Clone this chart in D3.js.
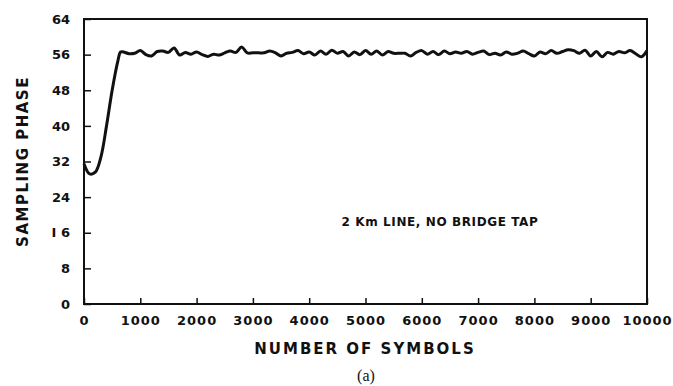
<!DOCTYPE html>
<html>
<head>
<meta charset="utf-8">
<script src="https://cdn.jsdelivr.net/npm/d3@7.9.0/dist/d3.min.js"></script>
<style>
  body { margin: 0; background: #fff; }
  text { font-family: "DejaVu Sans", sans-serif; fill: #111; }
</style>
</head>
<body>
<div id="vis"></div>
<script>
const width = 673, height = 386;
const margin = { top: 19, right: 26, bottom: 82, left: 84 };

// number of symbols (x) and sampling phase (y)
const symbols = [
  0, 100, 200, 300, 400, 500, 600, 650,
  700, 800, 900, 1000, 1100, 1200, 1300, 1400, 1500, 1600, 1700, 1800, 1900,
  2000, 2100, 2200, 2300, 2400, 2500, 2600, 2700, 2800, 2900,
  3000, 3100, 3200, 3300, 3400, 3500, 3600, 3700, 3800, 3900,
  4000, 4100, 4200, 4300, 4400, 4500, 4600, 4700, 4800, 4900,
  5000, 5100, 5200, 5300, 5400, 5500, 5600, 5700, 5800, 5900,
  6000, 6100, 6200, 6300, 6400, 6500, 6600, 6700, 6800, 6900,
  7000, 7100, 7200, 7300, 7400, 7500, 7600, 7700, 7800, 7900,
  8000, 8100, 8200, 8300, 8400, 8500, 8600, 8700, 8800, 8900,
  9000, 9100, 9200, 9300, 9400, 9500, 9600, 9700, 9800, 9900, 10000
];
const phase = [
  31.5, 29.2, 29.6, 33, 40, 48, 54.5, 56.6,
  56.6, 56.2, 56.3, 56.9, 56.0, 55.7, 56.7, 56.8, 56.5, 57.5, 55.9, 56.5, 56.1,
  56.6, 56.0, 55.6, 56.1, 55.9, 56.4, 56.8, 56.5, 57.7, 56.4,
  56.4, 56.4, 56.4, 56.8, 56.4, 55.7, 56.3, 56.5, 56.9, 56.2,
  56.6, 55.9, 56.8, 56.1, 57.0, 56.3, 56.7, 55.7, 56.6, 56.0,
  56.9, 56.1, 56.8, 55.9, 56.7, 56.3, 56.3, 56.3, 55.7, 56.5,
  56.9, 56.1, 56.7, 56.0, 56.8, 56.2, 56.6, 56.3, 56.7, 56.1,
  56.5, 56.8, 56.0, 56.3, 55.9, 56.6, 56.1, 56.3, 56.8, 56.2,
  55.7, 56.6, 56.2, 56.9, 56.3, 56.7, 57.1, 56.9, 56.3, 57.0,
  55.7, 56.7, 55.5, 56.5, 56.1, 56.7, 56.4, 56.9, 56.2, 55.5, 56.9
];
const xTicks = [0, 1000, 2000, 3000, 4000, 5000, 6000, 7000, 8000, 9000, 10000];
const yTicks = [0, 8, 16, 24, 32, 40, 48, 56, 64];
const yTickLabels = ["0", "8", "I 6", "24", "32", "40", "48", "56", "64"];

const svg = d3.select("#vis").append("svg")
    .attr("width", width)
    .attr("height", height);

const x = d3.scaleLinear().domain([0, 10000]).range([margin.left, width - margin.right]);
const y = d3.scaleLinear().domain([0, 64]).range([height - margin.bottom, margin.top]);

// frame
svg.append("rect")
    .attr("x", x(0))
    .attr("y", y(64))
    .attr("width", x(10000) - x(0))
    .attr("height", y(0) - y(64))
    .attr("fill", "none")
    .attr("stroke", "#111")
    .attr("stroke-width", 2);

const xAxis = svg.append("g")
    .attr("transform", `translate(0,${y(0)})`)
    .call(d3.axisBottom(x).tickValues(xTicks).tickFormat(d3.format("d"))
      .tickSizeInner(-6).tickSizeOuter(0).tickPadding(12));
xAxis.select(".domain").remove();
xAxis.selectAll("line").attr("stroke", "#111").attr("stroke-width", 1.5);
xAxis.selectAll("text")
    .style("font-size", "13px")
    .style("font-weight", "bold")
    .style("letter-spacing", "1px");

const yAxis = svg.append("g")
    .attr("transform", `translate(${x(0)},0)`)
    .call(d3.axisLeft(y).tickValues(yTicks).tickFormat((d, i) => yTickLabels[i])
      .tickSizeInner(-7).tickSizeOuter(0).tickPadding(14));
yAxis.select(".domain").remove();
yAxis.selectAll("line").attr("stroke", "#111").attr("stroke-width", 1.5);
yAxis.selectAll("text")
    .style("font-size", "13px")
    .style("font-weight", "bold");

const line = d3.line()
    .x((d, i) => x(symbols[i]))
    .y(d => y(d))
    .curve(d3.curveCatmullRom);

svg.append("path")
    .datum(phase)
    .attr("d", line)
    .attr("fill", "none")
    .attr("stroke", "#111")
    .attr("stroke-width", 3)
    .attr("stroke-linejoin", "round");

svg.append("text")
    .attr("x", 440)
    .attr("y", 226)
    .attr("text-anchor", "middle")
    .style("font-size", "12px")
    .style("font-weight", "bold")
    .style("letter-spacing", "0.6px")
    .text("2 Km LINE, NO BRIDGE TAP");

svg.append("text")
    .attr("x", 365)
    .attr("y", 354)
    .attr("text-anchor", "middle")
    .style("font-size", "15px")
    .style("font-weight", "bold")
    .style("letter-spacing", "2px")
    .text("NUMBER OF SYMBOLS");

svg.append("text")
    .attr("transform", `translate(28,${(y(0) + y(64)) / 2}) rotate(-90)`)
    .attr("text-anchor", "middle")
    .style("font-size", "15px")
    .style("font-weight", "bold")
    .style("letter-spacing", "1.5px")
    .text("SAMPLING PHASE");

svg.append("text")
    .attr("x", 366)
    .attr("y", 381)
    .attr("text-anchor", "middle")
    .style("font-family", "'Liberation Serif', serif")
    .style("font-size", "16px")
    .text("(a)");
</script>
</body>
</html>
